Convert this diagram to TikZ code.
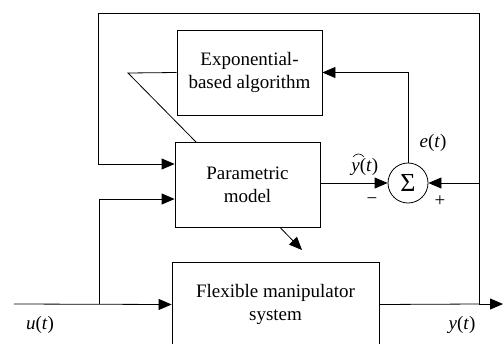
\documentclass[tikz,border=0pt]{standalone}
\usepackage{fontspec}
\setmainfont{Liberation Serif}
\usetikzlibrary{arrows.meta}
\begin{document}
\begin{tikzpicture}[x=1pt,y=-1pt,line width=0.8pt,
  every node/.style={font=\fontsize{19}{23}\selectfont},
  blk/.style={draw,rectangle,align=center,minimum width=145pt,minimum height=85pt,inner sep=0pt},
  sumnode/.style={draw,circle,minimum size=40pt,inner sep=0pt,font=\fontsize{26}{26}\selectfont},
  arr/.style={-{Triangle[length=13pt,width=11pt]}}]
\useasboundingbox (0,0) rectangle (503,343);
% blocks
\node[blk] (alg) at (249.5,72.5) {Exponential-\\based algorithm};
\node[blk] (model) at (247.5,184.5) {Parametric\\model};
\node[blk,minimum width=207pt] (plant) at (275.5,304.5) {Flexible manipulator\\system};
\node[sumnode] (sum) at (408,183) {Σ};
% points
\coordinate (ltop) at (98,13);
\coordinate (rtop) at (479,13);
\coordinate (yout) at (479,304);
\coordinate (yend) at (503,304);
\coordinate (uin) at (14,304);
\coordinate (ubr) at (99,304);
\coordinate (slant) at (128,73);
\coordinate (tap) at (196,142);
\coordinate (ptip) at (302,250);
% connectors
\draw[arr] (sum.north) |- (alg.east);
\draw (alg.west) -- (slant) -- (tap);
\draw[arr] (yout) -- (rtop) -- (ltop) |- ([yshift=20.5pt]model.west);
\draw[arr] (uin) -- (plant.west);
\draw[arr] (ubr) |- ([yshift=-14.5pt]model.west);
\draw[arr] (model.east |- sum) -- (sum.west);
\draw[arr] (yout |- sum) -- (sum.east);
\draw (plant.east) -- (yout);
\draw[arr] (yout) -- (yend);
\draw[arr] ([xshift=32.5pt]model.south) -- (ptip);
% labels
\node at (40,325) {\textit{u}(\textit{t})};
\node at (462,325) {\textit{y}(\textit{t})};
\node at (433,143) {\textit{e}(\textit{t})};
\node[anchor=west,inner sep=0pt] (yhat) at (351,167) {\textit{y}(\textit{t})};
\draw[line width=0.6pt] ([xshift=2pt,yshift=1pt]yhat.north west) .. controls ([xshift=5pt,yshift=5pt]yhat.north west) and ([xshift=10pt,yshift=5pt]yhat.north west) .. ([xshift=13pt,yshift=1pt]yhat.north west);
\node at (372,201) {−};
\node at (440,201) {+};
\end{tikzpicture}
\end{document}
